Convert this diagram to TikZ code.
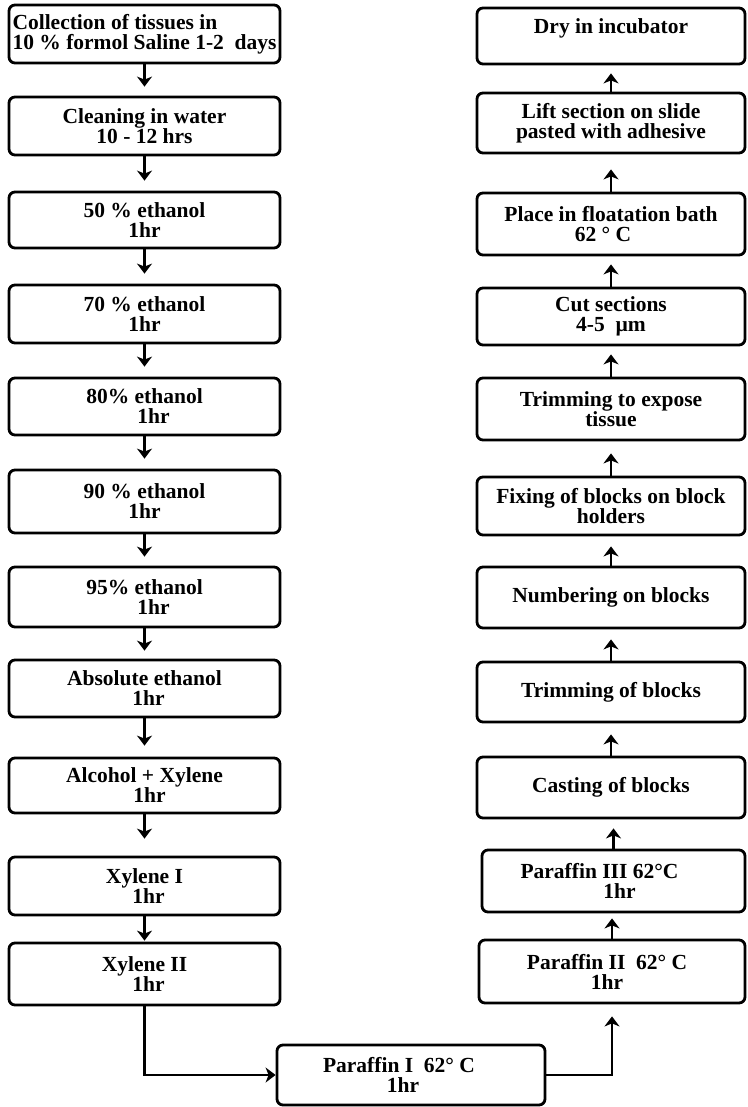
\documentclass[tikz,border=0pt]{standalone}
\usepackage{fontspec}
\setmainfont{Liberation Serif}
\usetikzlibrary{arrows.meta}
\begin{document}
\begin{tikzpicture}[x=1pt,y=-1pt,
  box/.style={draw, line width=2.8pt, rounded corners=6pt, align=center, inner sep=2pt,
    font=\fontsize{21.5}{20}\selectfont\bfseries},
  arr/.style={line width=2.3pt, -{Stealth[length=10pt,width=15pt,inset=3pt]}}]
\useasboundingbox (0,0) rectangle (747,1107);
% left column
\node[box, align=left, minimum width=271, minimum height=58] (l1) at (144.5,34) {Collection of tissues in\\10 \% formol Saline 1-2 \ days};
\node[box, minimum width=271, minimum height=58] (l2) at (144.5,126) {Cleaning in water\\10 - 12 hrs};
\node[box, minimum width=271, minimum height=56] (l3) at (144.5,220) {50 \% ethanol\\1hr};
\node[box, minimum width=271, minimum height=58] (l4) at (144.5,314) {70 \% ethanol\\1hr};
\node[box, minimum width=271, minimum height=57] (l5) at (144.5,406.5) {80\% ethanol\\\hspace*{18pt}1hr};
\node[box, minimum width=271, minimum height=63] (l6) at (144.5,501.5) {90 \% ethanol\\1hr};
\node[box, minimum width=271, minimum height=60] (l7) at (144.5,597) {95\% ethanol\\\hspace*{18pt}1hr};
\node[box, minimum width=271, minimum height=57] (l8) at (144.5,688.5) {Absolute ethanol\\\hspace*{8pt}1hr};
\node[box, minimum width=271, minimum height=55] (l9) at (144.5,785.5) {Alcohol + Xylene\\\hspace*{10pt}1hr};
\node[box, minimum width=271, minimum height=58] (l10) at (144.5,886) {Xylene I\\\hspace*{8pt}1hr};
\node[box, minimum width=271, minimum height=62] (l11) at (144.5,974) {Xylene II\\\hspace*{8pt}1hr};
% bottom
\node[box, minimum width=268, minimum height=60] (p1) at (411,1075) {Paraffin I\ \ 62° C\hspace*{24pt}\\1hr\hspace*{16pt}};
% right column
\node[box, minimum width=268, minimum height=56] (r1) at (611,36) {Dry in incubator\\\mbox{}};
\node[box, minimum width=268, minimum height=60] (r2) at (611,123) {Lift section on slide\\pasted with adhesive};
\node[box, minimum width=268, minimum height=62] (r3) at (611,224) {Place in floatation bath\\62 ° C\hspace*{16pt}};
\node[box, minimum width=268, minimum height=57] (r4) at (611,316.5) {Cut sections\\4-5 \ µm};
\node[box, minimum width=268, minimum height=62] (r5) at (611,409) {Trimming to expose\\tissue};
\node[box, minimum width=268, minimum height=58] (r6) at (611,506) {Fixing of blocks on block\\holders};
\node[box, minimum width=268, minimum height=61] (r7) at (611,597.5) {Numbering on blocks};
\node[box, minimum width=268, minimum height=60] (r8) at (611,692) {Trimming of blocks};
\node[box, minimum width=268, minimum height=61] (r9) at (611,787.5) {Casting of blocks};
\node[box, minimum width=263, minimum height=62] (r10) at (613.5,881) {Paraffin III 62°C\hspace*{28pt}\\\hspace*{12pt}1hr};
\node[box, minimum width=266, minimum height=63] (r11) at (612,971.5) {Paraffin II\ \ 62° C\hspace*{10pt}\\1hr\hspace*{10pt}};
% left arrows
\draw[arr, shorten >=9pt] (l1.south) -- (l2.north);
\draw[arr, shorten >=10pt] (l2.south) -- (l3.north);
\draw[arr, shorten >=10pt] (l3.south) -- (l4.north);
\draw[arr, shorten >=10pt] (l4.south) -- (l5.north);
\draw[arr, shorten >=10pt] (l5.south) -- (l6.north);
\draw[arr, shorten >=9pt] (l6.south) -- (l7.north);
\draw[arr, shorten >=8pt] (l7.south) -- (l8.north);
\draw[arr, shorten >=11pt] (l8.south) -- (l9.north);
\draw[arr, shorten >=17pt] (l9.south) -- (l10.north);
\draw[arr, shorten >=1pt] (l10.south) -- (l11.north);
% bottom connectors
\draw[arr] (l11.south) |- (p1.west);
\draw[arr, shorten >=12pt] (p1.east) -| (r11.south);
% right arrows
\draw[arr, shorten >=5pt] (r11.north) -- (r11.north |- r10.south);
\draw[arr, shorten >=9pt] (r10.north) -- (r10.north |- r9.south);
\draw[arr, shorten >=11pt] (r9.north) -- (r9.north |- r8.south);
\draw[arr, shorten >=10pt] (r8.north) -- (r8.north |- r7.south);
\draw[arr, shorten >=10pt] (r7.north) -- (r7.north |- r6.south);
\draw[arr, shorten >=12pt] (r6.north) -- (r6.north |- r5.south);
\draw[arr, shorten >=8pt] (r5.north) -- (r5.north |- r4.south);
\draw[arr, shorten >=8pt] (r4.north) -- (r4.north |- r3.south);
\draw[arr, shorten >=15pt] (r3.north) -- (r3.north |- r2.south);
\draw[arr, shorten >=8pt] (r2.north) -- (r2.north |- r1.south);
\end{tikzpicture}
\end{document}
